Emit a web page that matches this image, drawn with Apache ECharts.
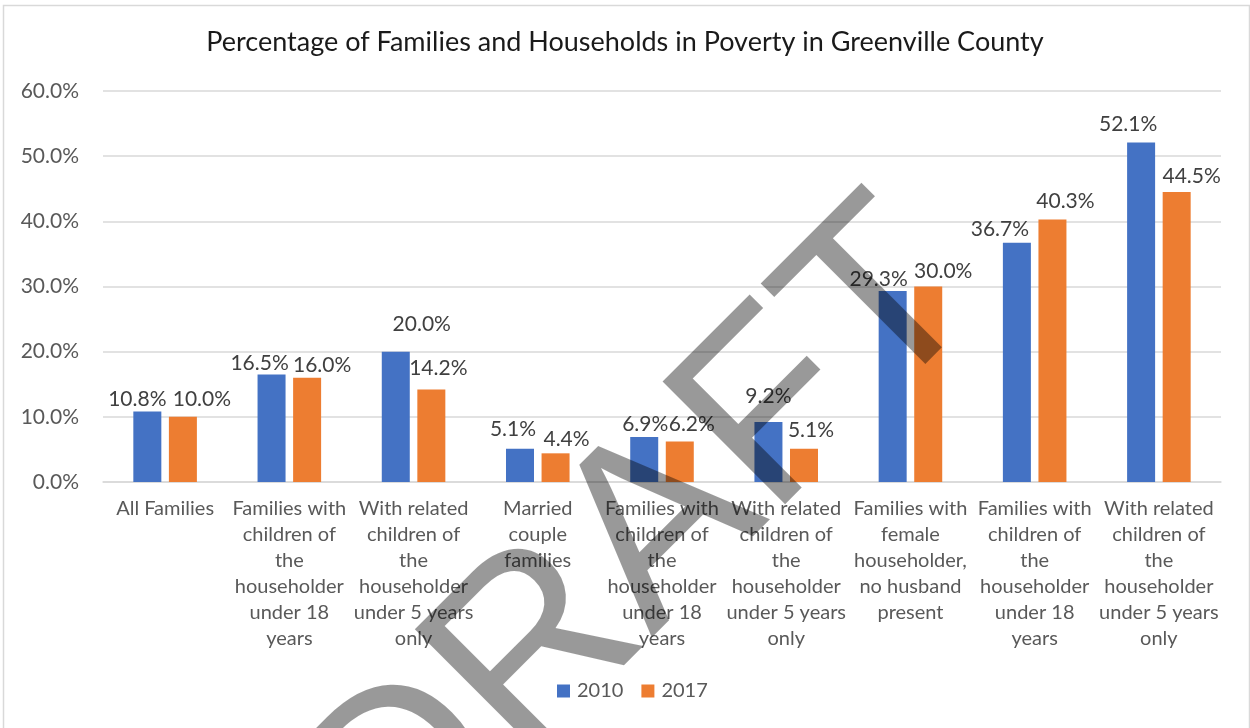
<!DOCTYPE html>
<html>
<head>
<meta charset="utf-8">
<script src="https://cdn.jsdelivr.net/npm/echarts@6/dist/echarts.min.js"></script>
<style>
html,body{margin:0;padding:0;background:#fff;}
#chart{width:1250px;height:728px;}
</style>
</head>
<body>
<div id="chart"></div>
<script>
const titleText = 'Percentage of Families and Households in Poverty in Greenville County';
const categories = [
  'All Families',
  'Families with\nchildren of\nthe\nhouseholder\nunder 18\nyears',
  'With related\nchildren of\nthe\nhouseholder\nunder 5 years\nonly',
  'Married\ncouple\nfamilies',
  'Families with\nchildren of\nthe\nhouseholder\nunder 18\nyears',
  'With related\nchildren of\nthe\nhouseholder\nunder 5 years\nonly',
  'Families with\nfemale\nhouseholder,\nno husband\npresent',
  'Families with\nchildren of\nthe\nhouseholder\nunder 18\nyears',
  'With related\nchildren of\nthe\nhouseholder\nunder 5 years\nonly'
];
const seriesNames = ['2010', '2017'];
const values2010 = [10.8, 16.5, 20.0, 5.1, 6.9, 9.2, 29.3, 36.7, 52.1];
const values2017 = [10.0, 16.0, 14.2, 4.4, 6.2, 5.1, 30.0, 40.3, 44.5];
const yTicks = [0, 10, 20, 30, 40, 50, 60];
const watermarkText = 'DRAFT';

// label nudges (styling only), as placed in the original chart
const labelNudge2010 = [[-10, 3], [-12, 4], [26, -12], [-7, -4], [1, 3], [0, -10], [-14, 4], [-17, 2], [-13, -3]];
const labelNudge2017 = [[19, -2], [15, 3], [7, -6], [11, 1], [12, -2], [7, -3], [15, 0], [13, -3], [15, 0]];

const FONT = 'Lato';
const chart = echarts.init(document.getElementById('chart'), null, {renderer: 'canvas'});
const labelStyle = {
  show: true, position: 'top', distance: 5,
  color: '#404040', fontSize: 21, fontFamily: FONT,
  formatter: p => p.value.toFixed(1) + '%'
};
const withNudge = (vals, nudges) => vals.map((v, i) => ({value: v, label: {offset: nudges[i]}}));

chart.setOption({
  animation: false,
  backgroundColor: '#fff',
  title: {
    text: titleText, left: 'center', top: 24,
    textStyle: {color: '#1a1a1a', fontSize: 27, fontWeight: 'normal', fontFamily: FONT}
  },
  legend: {
    data: seriesNames, bottom: 22, left: 552,
    itemWidth: 13, itemHeight: 13, itemGap: 18,
    icon: 'rect',
    textStyle: {color: '#595959', fontSize: 20, fontFamily: FONT, padding: [0, 0, 0, 2]}
  },
  grid: {left: 103, right: 29, top: 91, bottom: 246, containLabel: false},
  xAxis: {
    type: 'category', data: categories,
    axisLine: {lineStyle: {color: '#d9d9d9', width: 1.5}},
    axisTick: {show: false},
    axisLabel: {color: '#595959', fontSize: 20, fontFamily: FONT, lineHeight: 26, margin: 14, interval: 0}
  },
  yAxis: {
    type: 'value', min: yTicks[0], max: yTicks[yTicks.length - 1], interval: 10,
    axisLine: {show: false}, axisTick: {show: false},
    splitLine: {lineStyle: {color: '#d9d9d9', width: 1.5}},
    axisLabel: {color: '#595959', fontSize: 21, fontFamily: FONT, margin: 24,
      formatter: v => v.toFixed(1) + '%'}
  },
  series: [
    {name: seriesNames[0], type: 'bar', data: withNudge(values2010, labelNudge2010), barWidth: 28, barGap: '27%',
     itemStyle: {color: '#4472C4'}, label: labelStyle},
    {name: seriesNames[1], type: 'bar', data: withNudge(values2017, labelNudge2017), barWidth: 28,
     itemStyle: {color: '#ED7D31'}, label: labelStyle}
  ],
  graphic: [
    {type: 'rect', left: 1, top: 3, z: -10, silent: true,
     shape: {width: 1246, height: 740},
     style: {fill: 'none', stroke: '#d9d9d9', lineWidth: 1.5}},
    {type: 'text', x: 642, y: 549, rotation: Math.PI / 4, z: 100, silent: true,
     style: {text: watermarkText, font: '252px "Liberation Sans"', fill: 'rgba(0,0,0,0.4)',
       align: 'center', verticalAlign: 'middle'}}
  ]
});
</script>
</body>
</html>
